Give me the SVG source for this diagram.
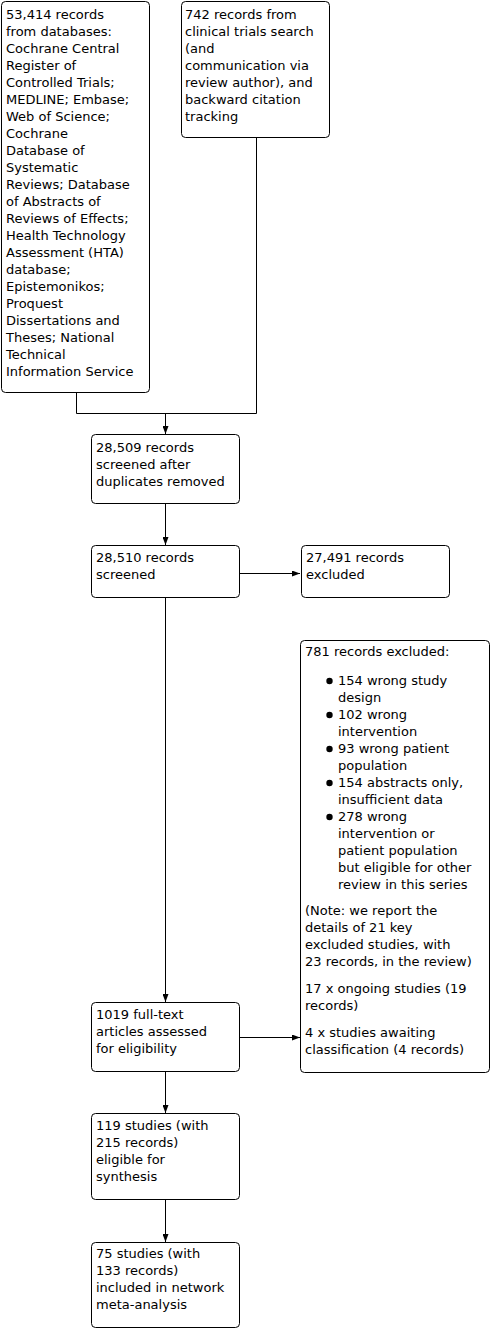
<svg xmlns="http://www.w3.org/2000/svg" width="491" height="1329" viewBox="0 0 491 1329">
<defs>
<style>
.box{fill:#fff;stroke:#000;stroke-width:1}
text{font-family:"DejaVu Sans","Verdana",sans-serif;font-size:13px;fill:#000}
.ln{fill:none;stroke:#000;stroke-width:1}
</style>
<marker id="ah" viewBox="0 0 8 6" refX="8" refY="3" markerWidth="8" markerHeight="6" markerUnits="userSpaceOnUse" orient="auto">
<path d="M0,0 L8,3 L0,6 z" fill="#000"/>
</marker>
</defs>
<rect width="491" height="1329" fill="#fff"/>
<g id="connectors">
<path class="ln" d="M76.5,393 V413.5 H256.5 V138"/>
<path class="ln" d="M165.5,413.5 V434" marker-end="url(#ah)"/>
<path class="ln" d="M165.5,504 V545" marker-end="url(#ah)"/>
<path class="ln" d="M240,573.5 H300" marker-end="url(#ah)"/>
<path class="ln" d="M165.5,598 V1002" marker-end="url(#ah)"/>
<path class="ln" d="M240,1037.5 H300" marker-end="url(#ah)"/>
<path class="ln" d="M165.5,1072 V1113" marker-end="url(#ah)"/>
<path class="ln" d="M165.5,1200 V1242" marker-end="url(#ah)"/>
</g>
<g id="n1">
<rect class="box" x="1.5" y="1.5" width="148" height="391" rx="4"/>
<text x="6">
<tspan x="6" y="18.5">53,414 records</tspan>
<tspan x="6" y="35.5">from databases:</tspan>
<tspan x="6" y="52.5">Cochrane Central</tspan>
<tspan x="6" y="69.5">Register of</tspan>
<tspan x="6" y="86.5">Controlled Trials;</tspan>
<tspan x="6" y="103.5">MEDLINE; Embase;</tspan>
<tspan x="6" y="120.5">Web of Science;</tspan>
<tspan x="6" y="137.5">Cochrane</tspan>
<tspan x="6" y="154.5">Database of</tspan>
<tspan x="6" y="171.5">Systematic</tspan>
<tspan x="6" y="188.5">Reviews; Database</tspan>
<tspan x="6" y="205.5">of Abstracts of</tspan>
<tspan x="6" y="222.5">Reviews of Effects;</tspan>
<tspan x="6" y="239.5">Health Technology</tspan>
<tspan x="6" y="256.5">Assessment (HTA)</tspan>
<tspan x="6" y="273.5">database;</tspan>
<tspan x="6" y="290.5">Epistemonikos;</tspan>
<tspan x="6" y="307.5">Proquest</tspan>
<tspan x="6" y="324.5">Dissertations and</tspan>
<tspan x="6" y="341.5">Theses; National</tspan>
<tspan x="6" y="358.5">Technical</tspan>
<tspan x="6" y="375.5">Information Service</tspan>
</text>
</g>
<g id="n2">
<rect class="box" x="181.5" y="1.5" width="148" height="136" rx="4"/>
<text>
<tspan x="185" y="19">742 records from</tspan>
<tspan x="185" y="36">clinical trials search</tspan>
<tspan x="185" y="53">(and</tspan>
<tspan x="185" y="70">communication via</tspan>
<tspan x="185" y="87">review author), and</tspan>
<tspan x="185" y="104">backward citation</tspan>
<tspan x="185" y="121">tracking</tspan>
</text>
</g>
<g id="n3">
<rect class="box" x="91.5" y="434.5" width="148" height="69" rx="4"/>
<text>
<tspan x="96" y="452">28,509 records</tspan>
<tspan x="96" y="469">screened after</tspan>
<tspan x="96" y="486">duplicates removed</tspan>
</text>
</g>
<g id="n4">
<rect class="box" x="91.5" y="545.5" width="148" height="52" rx="4"/>
<text>
<tspan x="96" y="562">28,510 records</tspan>
<tspan x="96" y="579">screened</tspan>
</text>
</g>
<g id="n5">
<rect class="box" x="301.5" y="545.5" width="148" height="52" rx="4"/>
<text>
<tspan x="306" y="562">27,491 records</tspan>
<tspan x="306" y="579">excluded</tspan>
</text>
</g>
<g id="n6">
<rect class="box" x="300.5" y="640.5" width="189" height="432" rx="4"/>
<text>
<tspan x="305" y="656">781 records excluded:</tspan>
</text>
<g fill="#000">
<circle cx="329.5" cy="681" r="3.2"/>
<circle cx="329.5" cy="715" r="3.2"/>
<circle cx="329.5" cy="749" r="3.2"/>
<circle cx="329.5" cy="783" r="3.2"/>
<circle cx="329.5" cy="817" r="3.2"/>
</g>
<text>
<tspan x="338" y="685">154 wrong study</tspan>
<tspan x="338" y="702">design</tspan>
<tspan x="338" y="719">102 wrong</tspan>
<tspan x="338" y="736">intervention</tspan>
<tspan x="338" y="753">93 wrong patient</tspan>
<tspan x="338" y="770">population</tspan>
<tspan x="338" y="787">154 abstracts only,</tspan>
<tspan x="338" y="804">insufficient data</tspan>
<tspan x="338" y="821">278 wrong</tspan>
<tspan x="338" y="838">intervention or</tspan>
<tspan x="338" y="855">patient population</tspan>
<tspan x="338" y="872">but eligible for other</tspan>
<tspan x="338" y="889">review in this series</tspan>
</text>
<text>
<tspan x="305" y="915">(Note: we report the</tspan>
<tspan x="305" y="932">details of 21 key</tspan>
<tspan x="305" y="949">excluded studies, with</tspan>
<tspan x="305" y="966">23 records, in the review)</tspan>
<tspan x="305" y="993">17 x ongoing studies (19</tspan>
<tspan x="305" y="1010">records)</tspan>
<tspan x="305" y="1037">4 x studies awaiting</tspan>
<tspan x="305" y="1054">classification (4 records)</tspan>
</text>
</g>
<g id="n7">
<rect class="box" x="91.5" y="1002.5" width="148" height="69" rx="4"/>
<text>
<tspan x="96" y="1019">1019 full-text</tspan>
<tspan x="96" y="1036">articles assessed</tspan>
<tspan x="96" y="1053">for eligibility</tspan>
</text>
</g>
<g id="n8">
<rect class="box" x="91.5" y="1113.5" width="148" height="86" rx="4"/>
<text>
<tspan x="96" y="1130">119 studies (with</tspan>
<tspan x="96" y="1147">215 records)</tspan>
<tspan x="96" y="1164">eligible for</tspan>
<tspan x="96" y="1181">synthesis</tspan>
</text>
</g>
<g id="n9">
<rect class="box" x="91.5" y="1242.5" width="148" height="85" rx="4"/>
<text>
<tspan x="96" y="1258">75 studies (with</tspan>
<tspan x="96" y="1275">133 records)</tspan>
<tspan x="96" y="1292">included in network</tspan>
<tspan x="96" y="1309">meta-analysis</tspan>
</text>
</g>
</svg>
